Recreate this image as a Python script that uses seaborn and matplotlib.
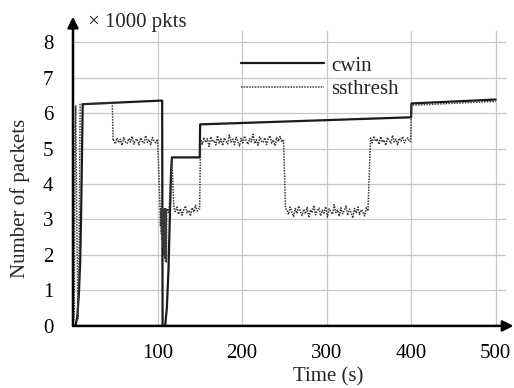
import numpy as np
import pandas as pd
import matplotlib
matplotlib.use("Agg")
import matplotlib.pyplot as plt
import seaborn as sns

# ---------------- data ----------------
cwin_time = [0, 3, 5, 7, 8.5, 9.5, 10.5, 11.5, 104, 105.5, 106, 109, 111, 113, 114.5, 116, 117,
             150, 150.4, 400, 400.4, 500]
cwin_value = [0, 0, 0.25, 0.9, 1.8, 3.0, 4.6, 6.25, 6.35, 6.35, 0, 0, 0.5, 1.6, 3.0, 4.3, 4.75,
              4.75, 5.68, 5.88, 6.27, 6.38]

ss_start_time = [0, 1.5, 2.5, 3.2, 4.5, 5.8, 7.0, 8.5, 46.5, 47.5]
ss_start_value = [0, 0.3, 5.6, 6.2, 3.0, 0.2, 1.5, 6.25, 6.28, 5.22]

ss_noise_a = [5.24, 5.13, 5.30, 5.16, 5.26, 5.09, 5.31, 5.19, 5.14, 5.28,
              5.18, 5.34, 5.12, 5.23, 5.27, 5.10, 5.30, 5.20, 5.15, 5.36,
              5.17, 5.25, 5.11, 5.31, 5.21, 5.16, 5.26]          # t 48..100
ss_drop_time = [101, 102, 103, 103.5, 104, 104.5, 105, 105.5, 106, 106.5, 107, 107.5,
                108, 108.5, 109, 109.5, 110, 110.5, 111, 112, 113, 114, 115, 116, 117,
                118, 119, 120]
ss_drop_value = [4.7, 4.0, 3.35, 2.8, 3.3, 2.6, 3.3, 2.4, 3.3, 2.2, 3.3, 2.0,
                 3.3, 1.9, 3.3, 1.8, 3.3, 1.8, 3.25, 3.3, 3.2, 3.4, 3.9, 4.4, 4.72,
                 4.1, 3.5, 3.25]
ss_noise_b = [3.22, 3.35, 3.15, 3.30, 3.12, 3.28, 3.38, 3.18, 3.26, 3.10,
              3.33, 3.21, 3.40, 3.24, 3.30]                      # t 121..149
ss_noise_c = [5.25, 5.12, 5.31, 5.17, 5.28, 5.06, 5.33, 5.19, 5.23, 5.10,
              5.36, 5.15, 5.27, 5.08, 5.30, 5.21, 5.13, 5.38, 5.18, 5.26,
              5.11, 5.32, 5.20, 5.07, 5.29, 5.16, 5.35, 5.22, 5.12, 5.28,
              5.19, 5.40, 5.14, 5.25, 5.09, 5.33, 5.21, 5.17, 5.30, 5.11,
              5.27, 5.36, 5.15, 5.24, 5.08, 5.31, 5.20, 5.34, 5.18, 5.26]  # t 151..249
ss_noise_d = [3.28, 3.14, 3.35, 3.20, 3.08, 3.31, 3.17, 3.38, 3.22, 3.11,
              3.29, 3.16, 3.34, 3.05, 3.27, 3.19, 3.40, 3.13, 3.24, 3.32,
              3.10, 3.26, 3.18, 3.36, 3.07, 3.30, 3.21, 3.15, 3.42, 3.19,
              3.27, 3.09, 3.33, 3.16, 3.25, 3.38, 3.12, 3.29, 3.20, 3.04,
              3.31, 3.18, 3.35, 3.14, 3.27, 3.22, 3.10, 3.33, 3.24]        # t 253..349
ss_noise_e = [5.30, 5.16, 5.35, 5.20, 5.27, 5.12, 5.33, 5.18, 5.24, 5.09,
              5.31, 5.22, 5.15, 5.37, 5.19, 5.26, 5.11, 5.29, 5.21, 5.34,
              5.16, 5.25, 5.30, 5.20]                                      # t 352..398
ss_end_time = [399.5, 400.3, 500]
ss_end_value = [5.2, 6.22, 6.33]

x_ticks = [100, 200, 300, 400, 500]
y_ticks = [0, 1, 2, 3, 4, 5, 6, 7, 8]
series_names = ["cwin", "ssthresh"]

# ---------------- assemble ----------------
ss_time = np.concatenate([
    ss_start_time,
    np.linspace(48, 100, len(ss_noise_a)),
    ss_drop_time,
    np.linspace(121, 149, len(ss_noise_b)),
    [149.8],
    np.linspace(151, 249, len(ss_noise_c)),
    [251.5],
    np.linspace(253, 349, len(ss_noise_d)),
    [350.5],
    np.linspace(352, 398, len(ss_noise_e)),
    ss_end_time,
])
ss_value = np.concatenate([
    ss_start_value, ss_noise_a, ss_drop_value, ss_noise_b, [3.3], ss_noise_c, [3.3],
    ss_noise_d, [4.3], ss_noise_e, ss_end_value,
])

df_c = pd.DataFrame({"t": cwin_time, "v": cwin_value})
df_s = pd.DataFrame({"t": ss_time, "v": ss_value})

# ---------------- plot ----------------
sns.set_theme(style="white")
plt.rcParams["font.family"] = ["Liberation Serif", "DejaVu Serif"]

fig = plt.figure(figsize=(5.14, 3.88), dpi=100)
ax = fig.add_axes([0.142, 0.16, 0.842, 0.759])

sns.lineplot(data=df_c, x="t", y="v", ax=ax, sort=False, estimator=None,
             color="#1a1a1a", lw=1.6, label=series_names[0])
sns.lineplot(data=df_s, x="t", y="v", ax=ax, sort=False, estimator=None,
             color="#3a3a3a", lw=1.1, linestyle=(0, (1, 0.8)), label=series_names[1])

ax.set_xlim(0, 512)
ax.set_ylim(0, 8.3)
ax.set_xticks(x_ticks)
ax.set_yticks(y_ticks)
ax.tick_params(axis="both", length=0, labelsize=15, colors="black")
ax.tick_params(axis="x", pad=13)
ax.tick_params(axis="y", pad=14)
ax.grid(True, color="#c8c8c8", lw=0.9)
ax.set_axisbelow(True)
for s in ax.spines.values():
    s.set_visible(False)

ax.set_xlabel("")
ax.set_ylabel("")
fig.text(328 / 514, 1 - 377 / 388, "Time (s)", ha="center", va="center", fontsize=15)
fig.text(20 / 514, 1 - 198 / 388, "Number of packets", ha="center", va="center",
         rotation=90, fontsize=15)
fig.text(88 / 514, 1 - 22 / 388, "× 1000 pkts", ha="left", va="center", fontsize=15)

# axis arrows
arrow = dict(arrowstyle="-|>", lw=1.8, color="black", mutation_scale=16,
             shrinkA=0, shrinkB=0)
ax.annotate("", xy=(0, 1.05), xytext=(0, 0), xycoords="axes fraction",
            textcoords="axes fraction", arrowprops=arrow, annotation_clip=False)
ax.annotate("", xy=(1.018, 0), xytext=(0, 0), xycoords="axes fraction",
            textcoords="axes fraction", arrowprops=arrow, annotation_clip=False)

leg = ax.legend(loc="upper left", bbox_to_anchor=(241 / 514, 1 - 56 / 388),
                bbox_transform=fig.transFigure, frameon=False, fontsize=15,
                handlelength=4.0, handletextpad=0.35, labelspacing=0.2,
                borderaxespad=0, borderpad=0)

fig.savefig("out.png", dpi=100)
